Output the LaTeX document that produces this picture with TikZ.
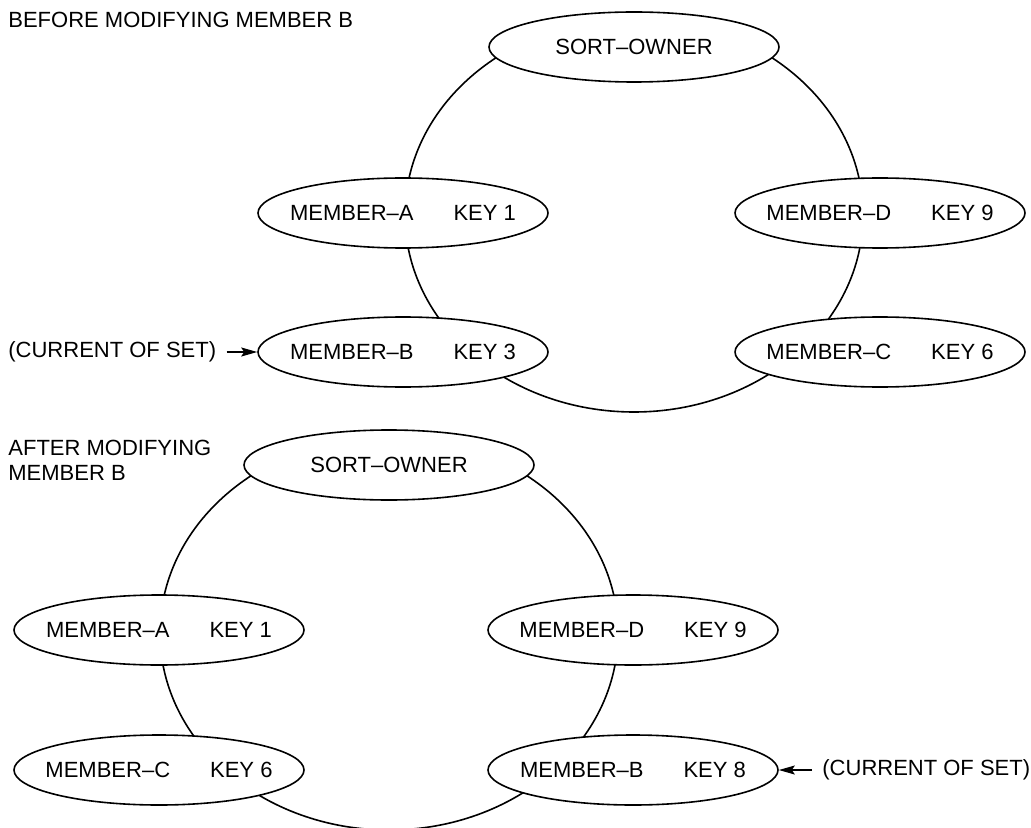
\documentclass[tikz,border=0pt]{standalone}
\usepackage{fontspec}
\setmainfont{Liberation Sans}
\usetikzlibrary{shapes,arrows.meta,positioning}

\newcommand{\memtxt}[2]{\makebox[0pt]{#1\hspace{20pt}#2}}

\begin{document}
\begin{tikzpicture}[x=0.5pt,y=-0.5pt,
    recd/.style={ellipse,draw,fill=white,line width=0.8pt,minimum width=145pt,minimum height=35pt,inner sep=0pt,font=\fontsize{11}{13}\selectfont},
    ring/.style={line width=0.8pt},
    lbl/.style={font=\fontsize{11}{12.5}\selectfont,inner sep=0pt},
    ptr/.style={-{Stealth[length=8pt,width=4.5pt,inset=1.5pt]},line width=0.8pt,shorten <=5pt}]
    \useasboundingbox (0,0) rectangle (1031,828);

    % before modifying
    \node[lbl,anchor=west] (head1) at (8,20) {BEFORE MODIFYING MEMBER B};
    \coordinate (ring1) at (634,215);
    \draw[ring] (ring1) ellipse [x radius=229, y radius=197];
    \node[recd] (own1) at (634,47) {SORT\textendash OWNER};
    \node[recd] (a1) at (403,213) {\memtxt{MEMBER\textendash A}{KEY 1}};
    \node[recd] (d1) at (880,213) {\memtxt{MEMBER\textendash D}{KEY 9}};
    \node[recd] (b1) at (403,352) {\memtxt{MEMBER\textendash B}{KEY 3}};
    \node[recd] (c1) at (880,352) {\memtxt{MEMBER\textendash C}{KEY 6}};
    \node[lbl,anchor=west] (cur1) at (8,352) {(CURRENT OF SET)};
    \draw[ptr] (cur1) -- (b1);

    % after modifying
    \node[lbl,anchor=west,align=left] (head2) at (8,460) {AFTER MODIFYING\\MEMBER B};
    \coordinate (ring2) at (389,633);
    \draw[ring] (ring2) ellipse [x radius=229, y radius=197];
    \node[recd] (own2) at (389,465) {SORT\textendash OWNER};
    \node[recd] (a2) at (159,630) {\memtxt{MEMBER\textendash A}{KEY 1}};
    \node[recd] (d2) at (633,630) {\memtxt{MEMBER\textendash D}{KEY 9}};
    \node[recd] (c2) at (159,770) {\memtxt{MEMBER\textendash C}{KEY 6}};
    \node[recd] (b2) at (633,770) {\memtxt{MEMBER\textendash B}{KEY 8}};
    \node[lbl,anchor=west] (cur2) at (822,770) {(CURRENT OF SET)};
    \draw[ptr] (cur2) -- (b2);
\end{tikzpicture}
\end{document}
